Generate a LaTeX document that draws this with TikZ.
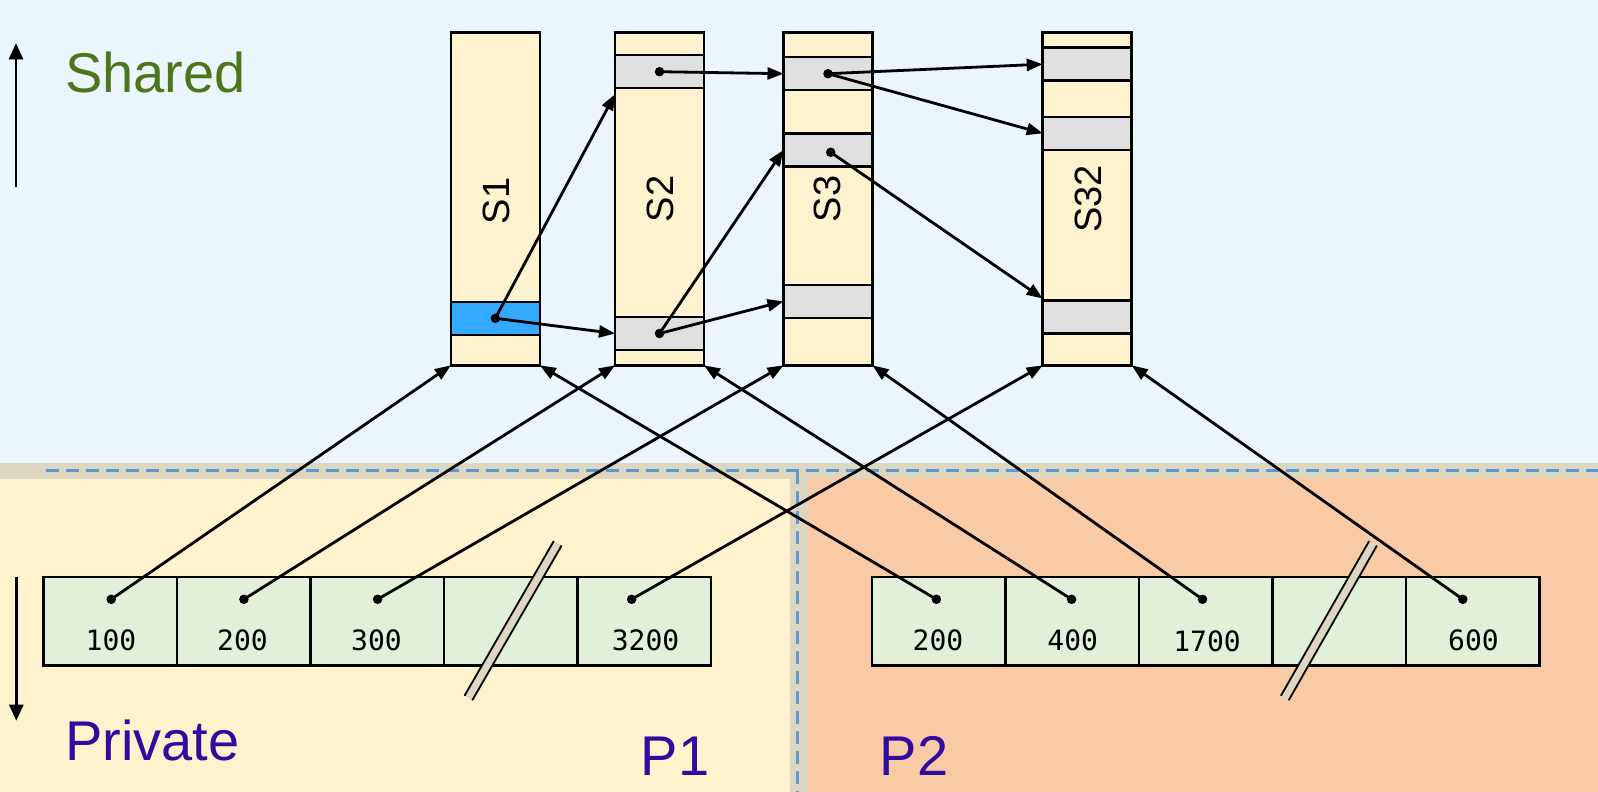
\documentclass[tikz,border=0pt]{standalone}
\usepackage{fontspec}
\setmainfont{Liberation Sans}
\newfontfamily\cellfont{DejaVu Sans Mono}
\usetikzlibrary{arrows.meta,calc}
\definecolor{sharedbg}{RGB}{234,245,252}
\definecolor{tanc}{RGB}{221,214,192}
\definecolor{poneb}{RGB}{255,242,204}
\definecolor{ptwob}{RGB}{248,203,166}
\definecolor{colfill}{RGB}{255,243,207}
\definecolor{bandgray}{RGB}{223,223,223}
\definecolor{bandblue}{RGB}{51,170,255}
\definecolor{cellgreen}{RGB}{226,240,217}
\definecolor{dashblue}{RGB}{91,155,213}
\definecolor{sharedgreen}{RGB}{76,118,26}
\definecolor{privpurple}{RGB}{50,10,160}
\begin{document}
\begin{tikzpicture}[x=1pt,y=-1pt,
  segcol/.style={draw=black, line width=2.5pt, fill=colfill, minimum width=89pt, minimum height=333pt, inner sep=0pt, outer sep=0pt},
  band/.style={draw=black, line width=2.5pt, fill=bandgray, minimum width=89pt, minimum height=33pt, inner sep=0pt, outer sep=0pt},
  cell/.style={draw=black, line width=2.5pt, fill=cellgreen, minimum width=133.5pt, minimum height=88.5pt, inner sep=0pt, outer sep=0pt},
  numtext/.style={font=\cellfont\fontsize{28}{30}\selectfont, inner sep=0pt},
  seglabel/.style={rotate=90, font=\fontsize{38}{40}\selectfont, inner sep=0pt},
  biglabel/.style={font=\fontsize{56}{60}\selectfont, inner sep=0pt, anchor=base west},
  pdot/.style={circle, fill=black, inner sep=0pt, minimum size=9.5pt},
  arr/.style={-{Triangle[length=16pt,width=12pt]}, line width=2.8pt, black},
  bigarr/.style={-{Triangle[length=16pt,width=14pt]}, line width=2.8pt, black},
  dashln/.style={dashblue, line width=2.5pt, dash pattern=on 13pt off 7pt},
  breakfill/.style={fill=tanc},
  breakline/.style={draw=black, line width=1.8pt}
]
\useasboundingbox (0,0) rectangle (1598,792);
% backgrounds
\fill[sharedbg] (0,0) rectangle (1598,792);
\fill[tanc] (0,463) rectangle (1598,792);
\fill[poneb] (0,479) rectangle (790,792);
\fill[ptwob] (808,478) rectangle (1598,792);
\draw[dashln] (46,470.7) -- (1598,470.7);
\draw[dashln] (797.5,470.7) -- (797.5,792);

% columns
\node[segcol] (S1) at (495.35,198.85) {};
\node[segcol] (S2) at (659.5,198.85) {};
\node[segcol] (S3) at (828,198.85) {};
\node[segcol] (S32) at (1087.2,198.85) {};
% bands
\node[band, fill=bandblue] (S1b) at (495.35,318.3) {};
\node[band] (S2b1) at (659.5,71.7) {};
\node[band] (S2b2) at (659.5,333.5) {};
\node[band] (S3b1) at (828,73.7) {};
\node[band] (S3b2) at (828,150) {};
\node[band] (S3b3) at (828,301.3) {};
\node[band] (S32b1) at (1087.2,64.2) {};
\node[band] (S32b2) at (1087.2,133.3) {};
\node[band] (S32b3) at (1087.2,317) {};
% column labels
\node[seglabel] (L1) at (496.5,201) {S1};
\node[seglabel] (L2) at (660,199) {S2};
\node[seglabel] (L3) at (827,199) {S3};
\node[seglabel] (L32) at (1088,199) {S32};

% cells P1
\node[cell] (a1) at (110.25,621.2) {};
\node[cell] (a2) at (243.75,621.2) {};
\node[cell] (a3) at (377.25,621.2) {};
\node[cell] (a4) at (510.75,621.2) {};
\node[cell] (a5) at (644.25,621.2) {};
% cells P2
\node[cell] (b1) at (938.75,621.2) {};
\node[cell] (b2) at (1072.25,621.2) {};
\node[cell] (b3) at (1205.75,621.2) {};
\node[cell] (b4) at (1339.25,621.2) {};
\node[cell] (b5) at (1472.75,621.2) {};
% numbers
\node[numtext] (na1) at (111,640) {100};
\node[numtext] (na2) at (242.5,640) {200};
\node[numtext] (na3) at (376.5,640) {300};
\node[numtext] (na5) at (645.5,640) {3200};
\node[numtext] (nb1) at (938,640) {200};
\node[numtext] (nb2) at (1072.7,640) {400};
\node[numtext] (nb3) at (1207,641.7) {1700};
\node[numtext] (nb5) at (1473.5,640) {600};

% break marks
\fill[breakfill] (561.6,545.55) -- (472.3,700.25) -- (464.5,695.75) -- (553.8,541.05) -- cycle;
\draw[breakline] (561.6,545.55) -- (472.3,700.25);
\draw[breakline] (553.8,541.05) -- (464.5,695.75);
\fill[breakfill] (1376.9,545.53) -- (1288.7,700.23) -- (1280.9,695.77) -- (1369.1,541.07) -- cycle;
\draw[breakline] (1376.9,545.53) -- (1288.7,700.23);
\draw[breakline] (1369.1,541.07) -- (1280.9,695.77);

% big labels
\node[biglabel, text=sharedgreen] (shared) at (65,92.7) {Shared};
\node[biglabel, text=privpurple] (private) at (65,760) {Private};
\node[biglabel, text=privpurple] (p1) at (640.5,775) {P1};
\node[biglabel, text=privpurple] (p2) at (879.5,775) {P2};
\coordinate (upA) at (16,186.7);
\coordinate (upB) at (16,43.3);
\coordinate (dnA) at (16.3,576.7);
\coordinate (dnB) at (16.3,720.7);
\draw[bigarr] (upA) -- (upB);
\draw[bigarr] (dnA) -- (dnB);

% dots
\node[pdot] (dS1) at (S1b.center) {};
\node[pdot] (dS2a) at (S2b1.center) {};
\node[pdot] (dS2b) at (S2b2.center) {};
\node[pdot] (dS3a) at (S3b1.center) {};
\node[pdot] (dS3b) at (830.7,152.3) {};
\node[pdot] (da1) at (111.2,599.3) {};
\node[pdot] (da2) at (243.9,599.3) {};
\node[pdot] (da3) at (377.6,599.3) {};
\node[pdot] (da5) at (631.6,599.3) {};
\node[pdot] (db1) at (936.4,599.3) {};
\node[pdot] (db2) at (1071.6,599.3) {};
\node[pdot] (db3) at (1202.5,599.3) {};
\node[pdot] (db5) at (1462.8,599.3) {};

% arrows among segments
\draw[arr] (dS1.center) -- ($(S2b1.south west)+(0,6)$);
\draw[arr] (dS1.center) -- (S2b2.west);
\draw[arr] (dS2a.center) -- (S3b1.west);
\draw[arr] (dS2b.center) -- (S3b2.west);
\draw[arr] (dS2b.center) -- (S3b3.west);
\draw[arr] (dS3a.center) -- (S32b1.west);
\draw[arr] (dS3a.center) -- (S32b2.west);
\draw[arr] (dS3b.center) -- ($(S32b3.north west)+(0,-2)$);

% arrows from page tables
\draw[arr] (da1.center) -- (S1.south west);
\draw[arr] (da2.center) -- (S2.south west);
\draw[arr] (da3.center) -- (S3.south west);
\draw[arr] (da5.center) -- (S32.south west);
\draw[arr] (db1.center) -- (S1.south east);
\draw[arr] (db2.center) -- (S2.south east);
\draw[arr] (db3.center) -- (S3.south east);
\draw[arr] (db5.center) -- (S32.south east);
\end{tikzpicture}
\end{document}
